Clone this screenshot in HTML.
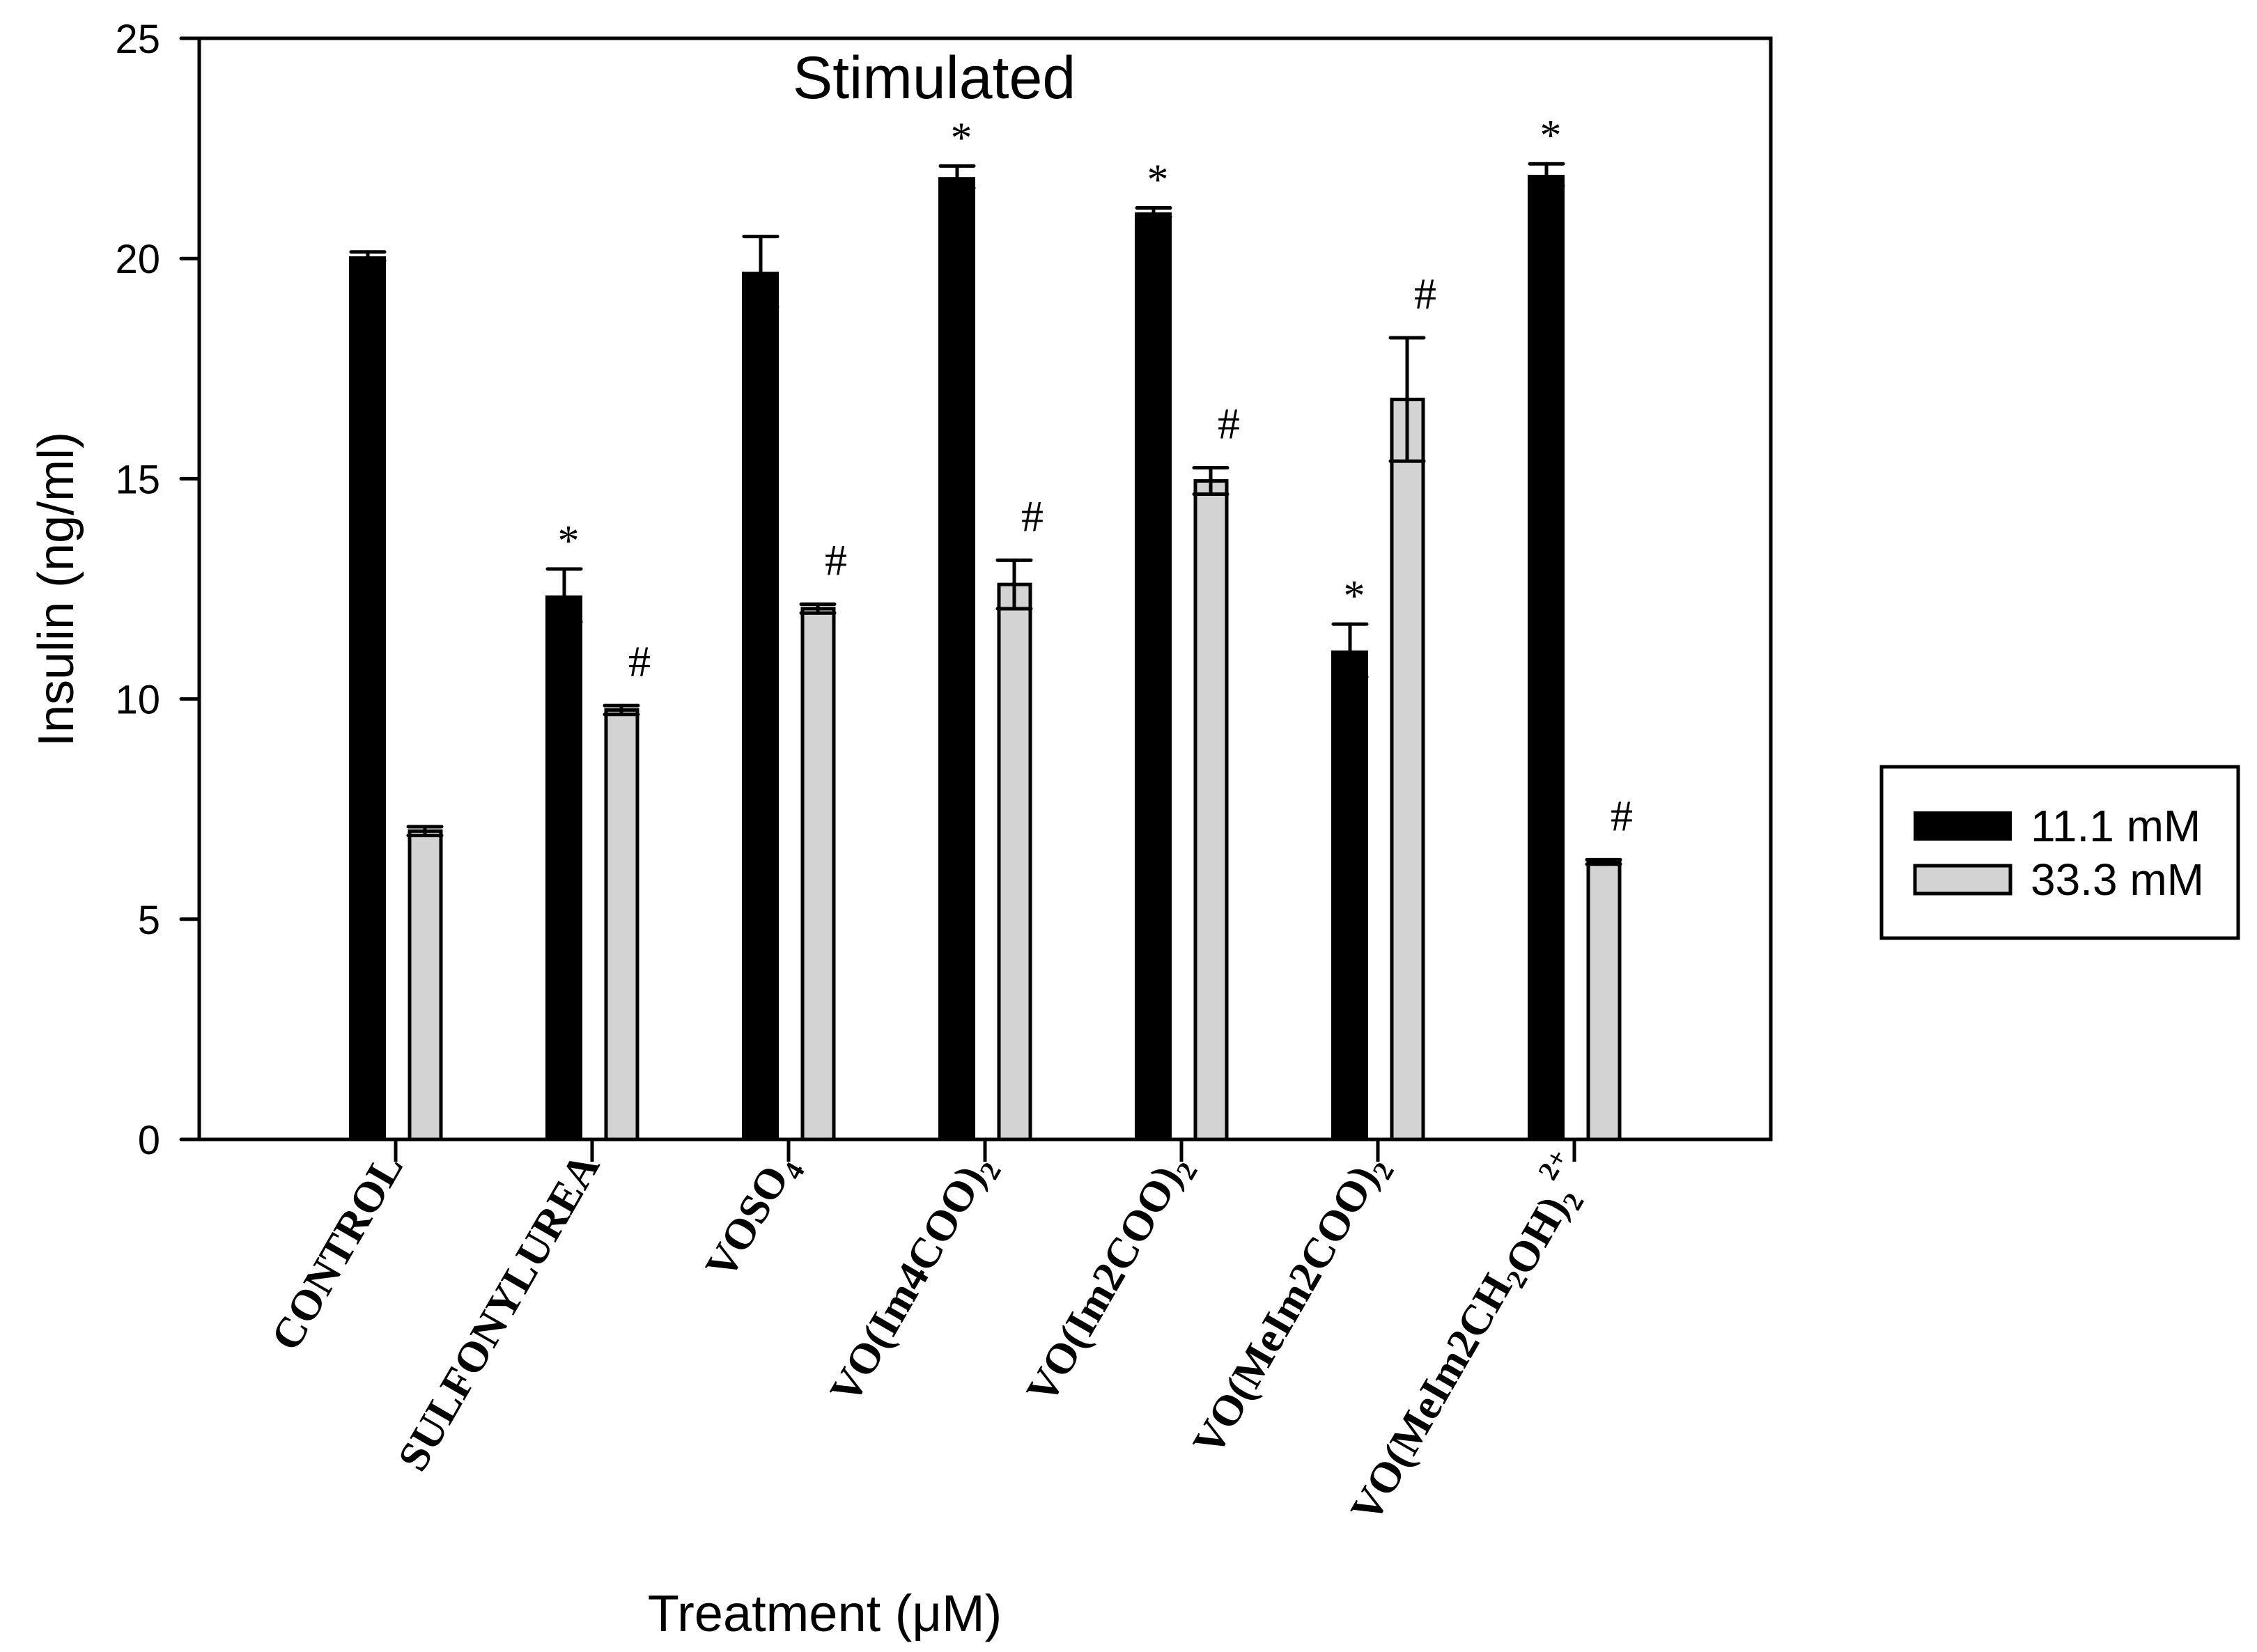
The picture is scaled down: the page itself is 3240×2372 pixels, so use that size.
<!DOCTYPE html>
<html><head><meta charset="utf-8"><style>
html,body{margin:0;padding:0;background:#fff;}
svg{display:block;}
</style></head><body>
<svg id="chart" width="3240" height="2372" viewBox="0 0 3240 2372" xmlns="http://www.w3.org/2000/svg">
<rect x="0" y="0" width="3240" height="2372" fill="#fff"/>
<g id="plot"></g>
<text x="1341" y="141" font-family="Liberation Sans, sans-serif" font-size="86" text-anchor="middle">Stimulated</text>
<text transform="translate(105,846) rotate(-90)" font-family="Liberation Sans, sans-serif" font-size="72" text-anchor="middle">Insulin (ng/ml)</text>
<text x="1184" y="2342" font-family="Liberation Sans, sans-serif" font-size="74" text-anchor="middle">Treatment (μM)</text>
<g>
<rect x="2701" y="1101" width="512" height="246" fill="#fff" stroke="#000" stroke-width="5"/>
<rect x="2747" y="1165" width="141" height="42" fill="#000"/>
<text x="2915" y="1208" font-family="Liberation Sans, sans-serif" font-size="64">11.1 mM</text>
<rect x="2749" y="1243" width="137" height="40" fill="#d3d3d3" stroke="#000" stroke-width="5"/>
<text x="2915" y="1285" font-family="Liberation Sans, sans-serif" font-size="64">33.3 mM</text>
</g>
</svg>
<script>
const categories = ["CONTROL","SULFONYLUREA","VOSO4","VO(Im4COO)2","VO(Im2COO)2","VO(MeIm2COO)2","VO(MeIm2CH2OH)2 2+"];
const lowGlucose = [20.05, 12.35, 19.7, 21.85, 21.05, 11.1, 21.9];
const lowGlucoseErr = [0.1, 0.6, 0.8, 0.25, 0.1, 0.6, 0.25];
const highGlucose = [7.0, 9.75, 12.05, 12.6, 14.95, 16.8, 6.3];
const highGlucoseErr = [0.1, 0.1, 0.1, 0.55, 0.3, 1.4, 0.05];
const starFlags = [false, true, false, true, true, true, true];
const hashFlags = [false, true, true, true, true, true, true];
const yTicks = [0, 5, 10, 15, 20, 25];

const NS = "http://www.w3.org/2000/svg";
const L = 286, R = 2542, T = 55, B = 1636, YMAX = 25;
const yS = v => B - (B - T) * v / YMAX;
const xS = i => L + (R - L) * (i + 1) / (categories.length + 1);
const plot = document.getElementById('plot');
function mk(tag, attrs, parent) {
  const e = document.createElementNS(NS, tag);
  for (const k in attrs) e.setAttribute(k, attrs[k]);
  (parent || plot).appendChild(e);
  return e;
}
let fr = mk('rect', {x: L, y: T, width: R - L, height: B - T, fill: 'none', stroke: '#000', 'stroke-width': 5});


yTicks.forEach(v => {
  const y = yS(v);
  const t = mk('line', {x1: L - 26, x2: L, y1: y, y2: y, stroke: '#000', 'stroke-width': 5, 'stroke-linecap': 'round'});
  
  
  const lb = mk('text', {x: 230, y: y + 21, 'font-family': 'Liberation Sans, sans-serif', 'font-size': 58, 'text-anchor': 'end'});
  lb.textContent = v;
  
  
});
function errBar(cx, top, err, hw) {
  const y1 = yS(top + err), y0 = yS(top - err);
  const g = mk('g', {stroke: '#000', 'stroke-width': 5, 'stroke-linecap': 'round'});
  
  
  mk('line', {x1: cx, x2: cx, y1: y1, y2: y0}, g);
  mk('line', {x1: cx - hw, x2: cx + hw, y1: y1, y2: y1}, g);
  mk('line', {x1: cx - hw, x2: cx + hw, y1: y0, y2: y0}, g);
}
categories.forEach((c, i) => {
  const cx = xS(i);
  const b = mk('rect', {x: cx - 67, y: yS(lowGlucose[i]), width: 53, height: B - yS(lowGlucose[i]), fill: '#000'});
  
  
  errBar(cx - 40, lowGlucose[i], lowGlucoseErr[i], 24);
  const g = mk('rect', {x: cx + 20, y: yS(highGlucose[i]), width: 45, height: B - yS(highGlucose[i]), fill: '#d3d3d3', stroke: '#000', 'stroke-width': 5});
  
  
  errBar(cx + 42, highGlucose[i], highGlucoseErr[i], 24);
  if (starFlags[i]) {
    const s = mk('text', {x: cx - 34, y: yS(lowGlucose[i] + lowGlucoseErr[i]) - 20, 'font-family': 'Liberation Serif, serif', 'font-size': 62, 'text-anchor': 'middle'});
    s.textContent = '*';
    
    
  }
  if (hashFlags[i]) {
    const h = mk('text', {x: cx + 68, y: yS(highGlucose[i] + highGlucoseErr[i]) - 42, 'font-family': 'Liberation Serif, serif', 'font-size': 64, 'text-anchor': 'middle'});
    h.textContent = '#';
    
    
  }
  const xt = mk('line', {x1: cx, x2: cx, y1: B, y2: B + 32, stroke: '#000', 'stroke-width': 5});
  
  
  const lb = mk('text', {transform: 'translate(' + (cx + 12) + ',1672) rotate(-60)', 'font-family': 'Liberation Serif, serif', 'font-size': 62, 'font-weight': 'bold', 'text-anchor': 'end'});
  
  
  const m = c.match(/^(.*?)(\d)( 2\+)?$/);
  if (c === 'CONTROL' || c === 'SULFONYLUREA') { lb.textContent = c; }
  else {
    let base = m[1], sub = m[2];
    const parts = base.split('CH2');
    parts.forEach((p, k) => {
      const t = mk('tspan', {}, lb); t.textContent = p;
      if (k < parts.length - 1) {
        const t2 = mk('tspan', {}, lb); t2.textContent = 'CH';
        const t3 = mk('tspan', {'font-size': 40, dy: 14}, lb); t3.textContent = '2';
        const t4 = mk('tspan', {dy: -14}, lb); t4.textContent = '';
      }
    });
    const ts = mk('tspan', {'font-size': 40, dy: 14}, lb); ts.textContent = sub;
    if (m[3]) {
      const sp = mk('tspan', {'font-size': 40, dy: -52}, lb); sp.textContent = '2+';
      const z = mk('tspan', {dy: 38, 'font-size': 1}, lb); z.textContent = ' ';
    } else {
      const z = mk('tspan', {dy: -14, 'font-size': 1}, lb); z.textContent = ' ';
    }
  }
});
</script>
</body></html>
